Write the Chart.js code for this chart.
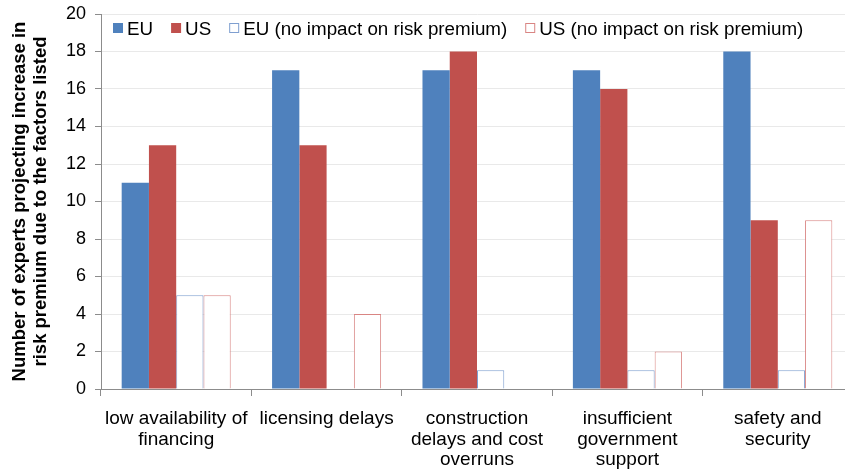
<!DOCTYPE html>
<html>
<head>
<meta charset="utf-8">
<script src="https://cdn.jsdelivr.net/npm/chart.js@4/dist/chart.umd.min.js"></script>
<style>
    html, body { margin: 0; padding: 0; background: #fff; overflow: hidden; }
    #wrap { width: 860px; height: 469px; }
</style>
</head>
<body>
<div id="wrap"><canvas id="chart" width="860" height="469"></canvas></div>
<script>
const categories = [
    ['low availability of', 'financing'],
    ['licensing delays'],
    ['construction', 'delays and cost', 'overruns'],
    ['insufficient', 'government', 'support'],
    ['safety and', 'security'],
];
const euValues = [11, 17, 17, 17, 18];
const usValues = [13, 13, 18, 16, 9];
const euNoImpact = [5, 0, 1, 1, 1];
const usNoImpact = [5, 4, 0, 2, 9];
const yTicks = [0, 2, 4, 6, 8, 10, 12, 14, 16, 18, 20];

const blue = '#4F81BD';
const red = '#C0504D';
const axisGray = '#8c8c8c';
const textColor = '#000';
const font = 'Liberation Sans, Arial, sans-serif';

Chart.defaults.font.family = font;
Chart.defaults.color = textColor;

const datasets = [
    { label: 'EU', data: euValues, backgroundColor: blue, borderColor: blue, borderWidth: 0 },
    { label: 'US', data: usValues, backgroundColor: red, borderColor: red, borderWidth: 0 },
    { label: 'EU (no impact on risk premium)', data: euNoImpact, backgroundColor: '#fff', borderColor: '#7f9fd0', borderWidth: 1 },
    { label: 'US (no impact on risk premium)', data: usNoImpact, backgroundColor: '#fff', borderColor: '#d98583', borderWidth: 1 },
];
datasets.forEach(ds => { ds.categoryPercentage = 0.725; ds.barPercentage = 1.0; });

// Single-row legend drawn inside the plot area, like the original
const inlineLegend = {
    id: 'inlineLegend',
    afterDraw(chart) {
        const ctx = chart.ctx;
        const area = chart.chartArea;
        ctx.save();
        ctx.font = '18.8px ' + font;
        ctx.textBaseline = 'middle';
        let x = area.left + 12;
        const y = area.top + 14;
        chart.data.datasets.forEach(ds => {
            ctx.fillStyle = ds.backgroundColor;
            ctx.fillRect(x, y - 5, 10, 10);
            if (ds.borderWidth) {
                ctx.strokeStyle = ds.borderColor;
                ctx.lineWidth = 1;
                ctx.strokeRect(x + 0.5, y - 4.5, 9, 9);
            }
            x += 14;
            ctx.fillStyle = textColor;
            ctx.fillText(ds.label, x, y + 2);
            x += ctx.measureText(ds.label).width + 18;
        });
        ctx.restore();
    },
};

new Chart(document.getElementById('chart'), {
    type: 'bar',
    data: { labels: categories, datasets },
    plugins: [inlineLegend],
    options: {
        responsive: false,
        animation: false,
        layout: { padding: { top: 14, left: 0, right: 7, bottom: 0 } },
        plugins: {
            tooltip: { enabled: false },
            legend: { display: false },
        },
        scales: {
            x: {
                grid: { offset: true, drawOnChartArea: false, color: axisGray, tickLength: 7 },
                border: { color: axisGray },
                ticks: { font: { size: 19, lineHeight: 1.1 }, color: textColor, maxRotation: 0, autoSkip: false, padding: 12 },
                afterFit(scale) { scale.height = 80; },
            },
            y: {
                min: 0,
                max: 20,
                afterBuildTicks(scale) { scale.ticks = yTicks.map(v => ({ value: v })); },
                grid: { color: '#e9e9e9', tickColor: axisGray, tickLength: 6 },
                border: { color: axisGray },
                ticks: { font: { size: 18 }, color: textColor, padding: 9 },
                title: {
                    display: true,
                    text: ['Number of experts projecting increase in', 'risk premium due to the factors listed'],
                    font: { size: 18.5, weight: 'bold', lineHeight: 1.15 },
                    color: textColor,
                    padding: { top: 9, bottom: 0 },
                },
                afterFit(scale) {
                    scale.width = 101;
                    // plot top/bottom come from the layout padding, not the tick labels
                    scale.paddingTop = 0;
                    scale.paddingBottom = 0;
                },
            },
        },
    },
});
</script>
</body>
</html>
